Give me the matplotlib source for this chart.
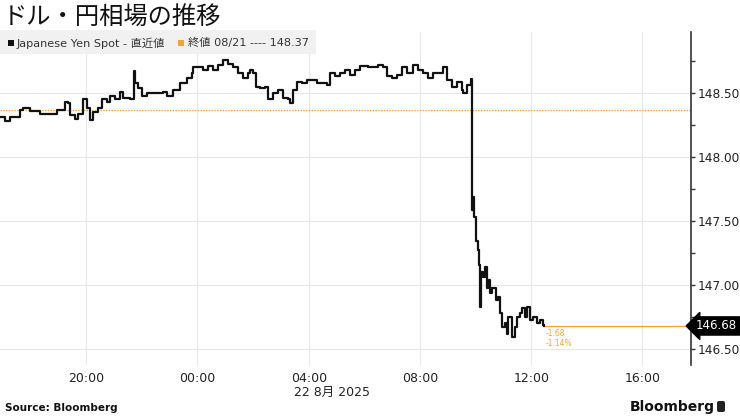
import pandas as pd
import matplotlib.pyplot as plt
import matplotlib.dates as mdates
import matplotlib.transforms as mtransforms
from matplotlib.patches import Rectangle, FancyBboxPatch
from matplotlib.ticker import MultipleLocator

plt.rcParams['font.family'] = ['DejaVu Sans', 'Noto Sans CJK JP']

# USD/JPY spot, 21-22 Aug 2025
times = [
    "21 16:54", "21 17:05", "21 17:16", "21 17:37", "21 17:44", "21 17:59", "21 18:20", "21 18:42",
    "21 18:57", "21 19:14", "21 19:21", "21 19:25", "21 19:36", "21 19:42", "21 19:53", "21 20:02",
    "21 20:08", "21 20:15", "21 20:25", "21 20:34", "21 20:45", "21 20:51", "21 21:02", "21 21:13",
    "21 21:19", "21 21:35", "21 21:41", "21 21:43", "21 21:45", "21 21:52", "21 22:00", "21 22:11",
    "21 22:33", "21 22:46", "21 22:54", "21 23:07", "21 23:22", "21 23:37", "21 23:48", "21 23:50",
    "22 00:01", "22 00:12", "22 00:23", "22 00:34", "22 00:44", "22 00:55", "22 01:06", "22 01:17",
    "22 01:28", "22 01:38", "22 01:49", "22 01:53", "22 02:00", "22 02:06", "22 02:15", "22 02:26",
    "22 02:32", "22 02:43", "22 02:54", "22 03:05", "22 03:15", "22 03:20", "22 03:26", "22 03:35",
    "22 03:46", "22 03:56", "22 04:18", "22 04:40", "22 04:46", "22 04:57", "22 05:08", "22 05:18",
    "22 05:29", "22 05:40", "22 05:51", "22 06:08", "22 06:19", "22 06:30", "22 06:40", "22 06:49",
    "22 07:00", "22 07:11", "22 07:21", "22 07:32", "22 07:45", "22 07:56", "22 08:07", "22 08:18",
    "22 08:28", "22 08:39", "22 08:50", "22 08:59", "22 09:09", "22 09:20", "22 09:31", "22 09:33",
    "22 09:42", "22 09:50", "22 09:53", "22 09:55", "22 09:57", "22 10:01", "22 10:06", "22 10:08",
    "22 10:10", "22 10:12", "22 10:15", "22 10:21", "22 10:25", "22 10:27", "22 10:32", "22 10:36",
    "22 10:43", "22 10:49", "22 10:53", "22 10:58", "22 11:04", "22 11:08", "22 11:10", "22 11:19",
    "22 11:25", "22 11:30", "22 11:36", "22 11:40", "22 11:47", "22 11:51", "22 11:58", "22 12:04",
    "22 12:13", "22 12:19", "22 12:26", "22 12:28",
]
prices = [
    148.31, 148.28, 148.31, 148.37, 148.38, 148.36, 148.34, 148.34,
    148.37, 148.43, 148.42, 148.33, 148.30, 148.34, 148.45, 148.38,
    148.29, 148.35, 148.38, 148.45, 148.43, 148.48, 148.45, 148.51,
    148.46, 148.45, 148.45, 148.67, 148.58, 148.54, 148.48, 148.50,
    148.50, 148.51, 148.48, 148.52, 148.58, 148.62, 148.66, 148.70,
    148.70, 148.68, 148.71, 148.68, 148.72, 148.76, 148.73, 148.70,
    148.66, 148.62, 148.66, 148.68, 148.66, 148.55, 148.54, 148.55,
    148.45, 148.50, 148.52, 148.46, 148.45, 148.42, 148.52, 148.59,
    148.58, 148.60, 148.58, 148.56, 148.66, 148.63, 148.66, 148.68,
    148.64, 148.68, 148.71, 148.70, 148.70, 148.72, 148.70, 148.63,
    148.62, 148.64, 148.70, 148.66, 148.72, 148.68, 148.66, 148.62,
    148.66, 148.66, 148.70, 148.60, 148.55, 148.59, 148.52, 148.50,
    148.56, 148.61, 147.59, 147.69, 147.53, 147.34, 147.27, 147.16,
    146.83, 147.10, 147.06, 147.14, 146.98, 147.04, 146.94, 146.98,
    146.88, 146.91, 146.78, 146.67, 146.70, 146.62, 146.75, 146.59,
    146.67, 146.75, 146.78, 146.82, 146.75, 146.83, 146.73, 146.75,
    146.70, 146.73, 146.69, 146.68,
]
prev_close = 148.37
last_price = 146.68
change = "-1.68"
change_pct = "-1.14%"

t = pd.to_datetime(["2025-08-" + s for s in times], format="%Y-%m-%d %H:%M")
orange = "#f5a431"

fig = plt.figure(figsize=(7.4, 4.16), dpi=100)
ax = fig.add_axes([0.0, 0.1226, 0.934, 0.8005])

x0 = pd.Timestamp("2025-08-21 16:54")
x1 = pd.Timestamp("2025-08-22 17:45")
ax.set_xlim(x0, x1)
ax.set_ylim(146.375, 148.977)

ax.grid(True, color="#e8e8e8", lw=0.8)
ax.set_axisbelow(True)

ax.axhline(prev_close, color=orange, lw=1.0, ls=(0, (1, 1)), zorder=2)
ax.step(t, prices, where="post", color="#111111", lw=1.6, zorder=3)
ax.hlines(last_price, t[-1], x1, color=orange, lw=0.9, zorder=2)

ax.text(t[-1] + pd.Timedelta(minutes=2), last_price - 0.025, change, color=orange,
        fontsize=5.5, va="top", ha="left")
ax.text(t[-1] + pd.Timedelta(minutes=2), last_price - 0.1, change_pct, color=orange,
        fontsize=5.5, va="top", ha="left")

# axes styling
for s in ["left", "top", "bottom"]:
    ax.spines[s].set_visible(False)
ax.spines["right"].set_color("#333333")
ax.spines["right"].set_linewidth(1.2)

ax.yaxis.tick_right()
ax.yaxis.set_major_locator(MultipleLocator(0.5))
ax.yaxis.set_minor_locator(MultipleLocator(0.25))
ax.yaxis.set_major_formatter(plt.FuncFormatter(lambda v, p: f"{v:.2f}"))
ax.tick_params(axis="y", which="both", length=3, width=1, color="#333333",
               labelsize=8.7, labelcolor="#222222", pad=2)

ax.xaxis.set_major_locator(mdates.HourLocator(byhour=[0, 4, 8, 12, 16, 20]))
ax.xaxis.set_major_formatter(mdates.DateFormatter("%H:%M"))
ax.tick_params(axis="x", length=0, labelsize=9, labelcolor="#222222", pad=5)

# last value tag on the right axis
trans = mtransforms.blended_transform_factory(ax.transAxes, ax.transData)
ax.text(1.007, last_price, f"{last_price:.2f}", transform=trans, color="white",
        fontsize=8.5, va="center", ha="left", zorder=6, clip_on=False,
        bbox=dict(boxstyle="larrow,pad=0.22", fc="black", ec="black"))

# title and legend strip
fig.text(0.004, 0.96, "ドル・円相場の推移", fontsize=17.5, color="#111111",
         family=["Noto Sans CJK JP"], va="center", ha="left")
fig.patches.append(Rectangle((0.0, 416 - 54), 316, 24, transform=None, fc="#f1f1f1",
                             ec="none", zorder=5))
fig.patches.append(Rectangle((8, 416 - 46), 6, 6, transform=None, fc="#111111",
                             ec="none", zorder=6))
fig.patches.append(Rectangle((178, 416 - 46), 6, 6, transform=None, fc=orange,
                             ec="none", zorder=6))
fig.text(17 / 740, 1 - 43 / 416, "Japanese Yen Spot - 直近値", fontsize=8.1,
         color="#333333", va="center", ha="left", zorder=7)
fig.text(188 / 740, 1 - 43 / 416, f"終値 08/21 ---- {prev_close:.2f}", fontsize=8.1,
         color="#333333", va="center", ha="left", zorder=7)

fig.text(332 / 740, 1 - 392 / 416, "22 8月 2025", fontsize=9, color="#222222",
         va="center", ha="center")
fig.text(5 / 740, 1 - 408 / 416, "Source: Bloomberg", fontsize=7.5, fontweight="bold",
         color="#111111", va="center", ha="left")
fig.text(715 / 740, 1 - 407 / 416, "Bloomberg", fontsize=10, fontweight="bold",
         color="#111111", va="center", ha="right")
fig.patches.append(FancyBboxPatch((717, 416 - 412), 8, 11, boxstyle="round,pad=0,rounding_size=2",
                                  transform=None, fc="#222222", ec="none"))

fig.savefig("out.png", dpi=100)
